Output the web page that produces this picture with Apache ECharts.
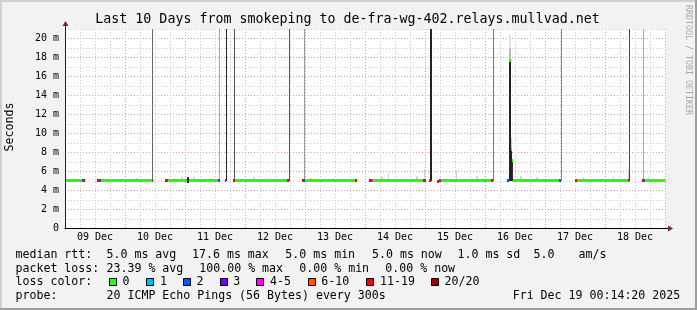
<!DOCTYPE html>
<html><head><meta charset="utf-8">
<script src="https://cdn.jsdelivr.net/npm/echarts@6/dist/echarts.min.js"></script>
<style>html,body{margin:0;padding:0;background:#f2f2f2}#c{width:697px;height:310px}</style>
</head><body><div id="c"></div>
<script>
// ---------------- data ----------------
const titleText = 'Last 10 Days from smokeping to de-fra-wg-402.relays.mullvad.net';
const yAxisTitle = 'Seconds';
const dayLabels = ['09 Dec','10 Dec','11 Dec','12 Dec','13 Dec','14 Dec','15 Dec','16 Dec','17 Dec','18 Dec'];
// x values: hours since 09 Dec 00:00
const xMin = 0, xMax = 240;
const yMin = 0, yMax = 21; // milliseconds

const lossLabels = ['0','1','2','3','4-5','6-10','11-19','20/20'];
const lossColors = ['#26ff00','#00b8ff','#0059ff','#7000ff','#ff00ff','#ff5500','#ff0000','#a10000'];

// median rtt segments: [startHour, endHour, rttMs, lossIndex]
const median = [
  [0.24,6.8,5.0,0],[6.8,7.3,5.0,2],[7.3,8.0,5.0,6],
  [12.9,13.7,5.0,6],[13.7,14.3,5.0,2],[14.3,34.7,5.0,0],[34.7,35.3,5.0,6],
  [40.0,40.7,5.0,6],[40.7,41.2,5.0,2],[41.2,48.8,5.0,0],[49.5,61.2,5.0,0],[61.2,62.0,5.0,2],
  [63.9,64.4,5.0,6],
  [67.1,68.1,5.0,6],[68.1,88.9,5.0,0],[88.9,89.6,5.0,6],
  [94.9,95.4,5.0,6],[95.4,96.0,5.0,2],[96.0,116.0,5.0,0],[116.0,116.7,5.0,6],
  [121.7,122.4,5.0,6],[122.4,123.1,5.0,4],[123.1,143.3,5.0,0],[143.3,144.4,5.0,6],
  [145.7,146.4,5.0,6],
  [148.9,149.7,4.9,6],[149.7,150.3,5.0,2],[150.3,170.5,5.0,0],[170.5,171.3,5.0,6],
  [176.7,177.2,5.0,6],[177.2,177.7,5.0,2],[177.7,178.4,17.6,0],[178.4,178.8,8.3,0],[178.8,179.1,7.1,0],
  [179.1,197.7,5.0,0],[197.7,198.3,5.0,2],
  [203.9,204.7,5.0,6],[204.7,225.1,5.0,0],[225.1,225.7,5.0,6],
  [230.9,231.5,5.0,6],[231.5,232.0,5.0,2],[232.0,240.24,5.0,0]
];

// smoke (spread of pings): [startHour, endHour, lowMs, highMs, shade]
const smoke = [
  [34.9,35.3,5,21,'#666666'],[61.6,62.0,5,21,'#aaaaaa'],[64.4,64.8,5,21,'#222222'],
  [67.5,67.9,5,21,'#555555'],[89.4,89.8,5,21,'#555555'],[95.4,95.8,5,21,'#999999'],
  [145.9,146.7,5,21,'#222222'],[171.0,171.4,5,21,'#777777'],[198.2,198.6,5,21,'#888888'],
  [225.6,226.0,5,21,'#444444'],[231.2,231.6,5,21,'#aaaaaa'],
  [177.7,178.4,5,17.6,'#222222'],[177.7,178.4,17.6,19.0,'#bbbbbb'],[177.7,178.4,19.0,20.4,'#e2e2e2'],
  [178.4,178.8,5,8.3,'#222222'],[178.4,178.8,8.3,9.5,'#cccccc'],[178.8,179.1,5,7.1,'#333333'],
  [48.8,49.5,4.8,5.4,'#222222'],
  [2.5,3.1,5,5.2,'#d0d0d0'],[4.8,5.4,5,5.25,'#d0d0d0'],[18.0,18.6,5,5.2,'#d0d0d0'],
  [28.5,29.1,5,5.3,'#d0d0d0'],[43.2,43.8,5,5.3,'#d0d0d0'],[46.5,47.1,5,5.4,'#d0d0d0'],
  [51.2,51.8,5,5.4,'#d0d0d0'],[57.8,58.4,5,5.35,'#d0d0d0'],[75.2,75.8,5,5.4,'#d0d0d0'],
  [80.5,81.1,5,5.3,'#d0d0d0'],[98.0,98.6,5,5.3,'#d0d0d0'],[103.0,103.6,5,5.25,'#d0d0d0'],
  [107.0,107.6,5,5.3,'#d0d0d0'],[126.5,127.1,5,5.45,'#d0d0d0'],[129.1,129.7,5,5.8,'#d0d0d0'],
  [140.5,141.1,5,5.5,'#d0d0d0'],[143.4,144.0,5,6.2,'#d0d0d0'],[156.2,156.8,5,6.15,'#d0d0d0'],
  [164.5,165.1,5,5.5,'#d0d0d0'],[182.1,182.7,5,5.5,'#d0d0d0'],[188.5,189.1,5,5.4,'#d0d0d0'],
  [207.1,207.7,5,5.4,'#d0d0d0'],[219.1,219.7,5,5.45,'#d0d0d0'],[225.0,225.6,5,6.2,'#d0d0d0'],
  [233.1,233.7,5,5.4,'#d0d0d0']
];

const rttRow = ['median rtt:','5.0 ms avg','17.6 ms max','5.0 ms min','5.0 ms now','1.0 ms sd','5.0','am/s'];
const lossRow = ['packet loss:','23.39 % avg','100.00 % max','0.00 % min','0.00 % now'];
const lossColorTitle = 'loss color:';
const probeRow = ['probe:','20 ICMP Echo Pings (56 Bytes) every 300s'];
const stampText = 'Fri Dec 19 00:14:20 2025';
const creditText = 'RRDTOOL / TOBI OETIKER';

// ---------------- layout ----------------
const G = {left:65, top:29, width:600, height:199.5};
const MONO = '"DejaVu Sans Mono", monospace';
const legendFont = '11.6px ' + MONO;
const gridMajor = '#eb9a9a', gridMinor = '#c9c9c9';

function txt(text, x, y, opt) {
  opt = opt || {};
  return {type:'text', x:x, y:y, rotation: opt.rot || 0, z:10,
    style:{text:text, font: opt.font || legendFont, fill: opt.fill || '#000',
      align: opt.align || 'left', verticalAlign:'middle'}};
}

const graphic = [];
// frame (3d shade)
graphic.push({type:'rect', shape:{x:0,y:0,width:697,height:2}, style:{fill:'#cfcfcf'}});
graphic.push({type:'rect', shape:{x:0,y:0,width:2,height:310}, style:{fill:'#cfcfcf'}});
graphic.push({type:'rect', shape:{x:695,y:0,width:2,height:310}, style:{fill:'#9e9e9e'}});
graphic.push({type:'rect', shape:{x:0,y:308,width:697,height:2}, style:{fill:'#9e9e9e'}});

graphic.push(txt(titleText, 347.5, 19.5, {font:'13.3px ' + MONO, align:'center'}));
graphic.push(txt(yAxisTitle, 10, 127, {rot: Math.PI/2, align:'center'}));
graphic.push(txt(creditText, 688.3, 60, {rot: -Math.PI/2, align:'center', font:'8.3px ' + MONO, fill:'#a8a8a8'}));

// axis arrows
const ax0 = G.left + 0.5, ay0 = G.top + G.height;
graphic.push({type:'line', shape:{x1:G.left+G.width, y1:ay0, x2:G.left+G.width+4, y2:ay0}, style:{stroke:'#000', lineWidth:1}});
graphic.push({type:'polygon', shape:{points:[[G.left+G.width+3,ay0-3],[G.left+G.width+3,ay0+3],[G.left+G.width+8,ay0]]}, style:{fill:'#801f1f'}, z:10});
graphic.push({type:'line', shape:{x1:ax0, y1:G.top, x2:ax0, y2:G.top-3}, style:{stroke:'#1f1f1f', lineWidth:1}});
graphic.push({type:'polygon', shape:{points:[[ax0-3,G.top-3],[ax0+3,G.top-3],[ax0,G.top-8]]}, style:{fill:'#801f1f'}, z:10});

// legend rows
const rowY = [255, 268.7, 282.4, 296.1];
const rttX = [15.5, 106.5, 192, 285.3, 372, 457.5, 533.5, 578.5];
rttRow.forEach((t,i) => graphic.push(txt(t, rttX[i], rowY[0])));
const lossX = [15.5, 106.5, 199.3, 299.3, 385.3];
lossRow.forEach((t,i) => graphic.push(txt(t, lossX[i], rowY[1])));
graphic.push(txt(lossColorTitle, 15.5, rowY[2]));
const boxX = [109, 146.3, 183, 219.7, 256.3, 307.7, 366.3, 431];
const boxTextX = [122.6, 160, 196.6, 233.3, 270, 321.3, 380, 444.6];
lossLabels.forEach((t,i) => {
  graphic.push({type:'rect', shape:{x:Math.round(boxX[i])+0.5, y:278.5, width:7, height:7},
    style:{fill:lossColors[i], stroke:'#000', lineWidth:1}, z:10});
  graphic.push(txt(t, boxTextX[i], rowY[2]));
});
graphic.push(txt(probeRow[0], 15.5, rowY[3]));
graphic.push(txt(probeRow[1], 106.5, rowY[3]));
graphic.push(txt(stampText, 512.7, rowY[3]));

const xSplitColors = [];
for (let v = xMin; v <= xMax; v += 6) xSplitColors.push(v % 24 === 0 ? gridMajor : gridMinor);
const ySplitColors = [];
for (let v = yMin; v <= yMax; v += 1) ySplitColors.push(v % 2 === 0 ? gridMajor : gridMinor);

const chart = echarts.init(document.getElementById('c'), null, {renderer:'canvas'});
chart.setOption({
  animation: false,
  backgroundColor: '#f2f2f2',
  grid: Object.assign({show:true, backgroundColor:'#ffffff', borderWidth:0, containLabel:false, outerBoundsMode:'none'}, G),
  xAxis: {
    type:'value', min:xMin, max:xMax, interval:6,
    axisLine:{show:true, onZero:false, lineStyle:{color:'#000', width:1}},
    axisTick:{show:false},
    axisLabel:{show:true, interval:0, margin:4, color:'#000', fontFamily:'DejaVu Sans Mono', fontSize:10,
      formatter: v => (v % 24 === 12) ? dayLabels[(v - 12) / 24] : ''},
    splitLine:{show:true, lineStyle:{color:xSplitColors, width:1, type:[1,2]}}
  },
  yAxis: {
    type:'value', min:yMin, max:yMax, interval:1,
    axisLine:{show:true, lineStyle:{color:'#1f1f1f', width:1}},
    axisTick:{show:false},
    axisLabel:{show:true, margin:6, color:'#000', fontFamily:'DejaVu Sans Mono', fontSize:10,
      formatter: v => v === 0 ? '0' : (v % 2 === 0 ? v + ' m' : '')},
    splitLine:{show:true, lineStyle:{color:ySplitColors, width:1, type:[1,2]}}
  },
  series: [
    {
      type:'custom', name:'smoke', clip:true, z:2,
      data: smoke.map(d => [d[0], d[1], d[2], d[3]]),
      encode:{x:[0,1], y:[2,3]},
      renderItem: (params, api) => {
        const p0 = api.coord([api.value(0), api.value(3)]);
        const p1 = api.coord([api.value(1), api.value(2)]);
        const x0 = Math.round(p0[0]);
        const w = Math.max(1, Math.round(p1[0]) - x0);
        return {type:'rect', shape:{x:x0, y:p0[1], width:w, height:p1[1]-p0[1]},
          style:{fill: smoke[params.dataIndex][4]}};
      }
    },
    {
      type:'custom', name:'median', clip:true, z:3,
      data: median.map(d => [d[0], d[1], d[2], d[3]]),
      encode:{x:[0,1], y:2},
      renderItem: (params, api) => {
        const p0 = api.coord([api.value(0), api.value(2)]);
        const p1 = api.coord([api.value(1), api.value(2)]);
        const x0 = Math.round(p0[0]);
        const w = Math.max(1, Math.round(p1[0]) - x0);
        return {type:'rect', shape:{x:x0, y:Math.round(p0[1]) - 2, width:w, height:3},
          style:{fill: lossColors[api.value(3)]}};
      }
    }
  ],
  graphic: graphic
});
</script>
</body></html>
